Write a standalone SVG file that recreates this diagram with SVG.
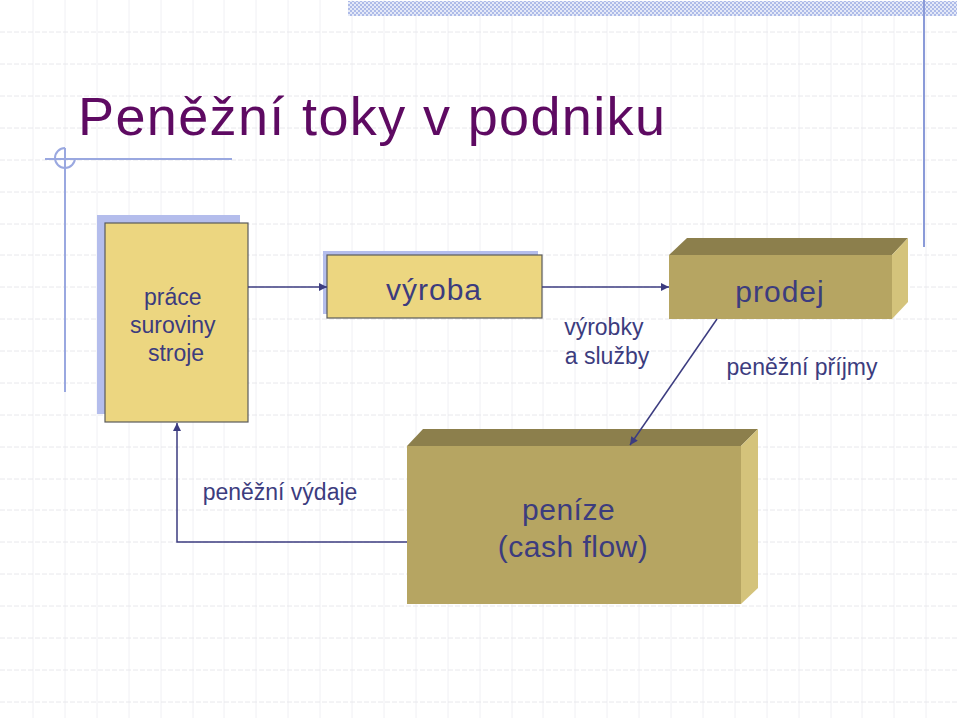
<svg xmlns="http://www.w3.org/2000/svg" width="959" height="718" viewBox="0 0 959 718">
  <defs>
    <style>
      .gv { stroke: #f0f0f4; stroke-width: 1; }
      .gh { stroke: #e8e8ec; stroke-width: 1; stroke-dasharray: 5 2; }
      .deco { stroke: #9aa8e0; stroke-width: 2; fill: none; }
      .box { fill: #ecd680; stroke: #5a5a5a; stroke-width: 1.2; }
      .shadow { fill: #b4bdec; }
      .front { fill: #b6a562; }
      .top { fill: #8c7f4c; }
      .side { fill: #d4c37b; }
      .conn { stroke: #3c3c80; stroke-width: 1.5; fill: none; }
      .lbl { font-family: "Liberation Sans", Arial, sans-serif; fill: #3c3c7e; }
      .title { font-family: "Liberation Sans", Arial, sans-serif; fill: #5e0a62; font-size: 54px; }
    </style>
    <pattern id="checker" width="4" height="4" patternUnits="userSpaceOnUse">
      <rect width="4" height="4" fill="#e4e9f8"/>
      <rect width="2" height="2" fill="#aebbe8"/>
      <rect x="2" y="2" width="2" height="2" fill="#aebbe8"/>
    </pattern>
    <marker id="arrow" viewBox="0 0 10 10" refX="10" refY="5" markerWidth="9" markerHeight="8" markerUnits="userSpaceOnUse" orient="auto">
      <path d="M0,0 L10,5 L0,10 Z" fill="#3c3c80"/>
    </marker>
  </defs>

  <rect width="959" height="718" fill="#ffffff"/>

  <!-- grid -->
  <g id="grid">
    <path class="gv" d="M33,0V718 M65,0V718 M97,0V718 M129,0V718 M161,0V718 M193,0V718 M224,0V718 M256,0V718 M288,0V718 M320,0V718 M352,0V718 M384,0V718 M416,0V718 M448,0V718 M480,0V718 M512,0V718 M543,0V718 M575,0V718 M607,0V718 M639,0V718 M671,0V718 M703,0V718 M735,0V718 M767,0V718 M799,0V718 M831,0V718 M862,0V718 M894,0V718 M926,0V718"/>
    <path class="gh" d="M0,32H959 M0,64H959 M0,96H959 M0,128H959 M0,160H959 M0,192H959 M0,224H959 M0,255H959 M0,287H959 M0,319H959 M0,351H959 M0,383H959 M0,415H959 M0,447H959 M0,479H959 M0,510H959 M0,542H959 M0,574H959 M0,606H959 M0,638H959 M0,670H959 M0,702H959"/>
  </g>

  <!-- decorations -->
  <g id="decoration">
    <rect x="348" y="1" width="609" height="15" fill="url(#checker)"/>
    <line x1="924" y1="0" x2="924" y2="247" stroke="#8a9ad8" stroke-width="2"/>
    <line class="deco" x1="45" y1="159" x2="232" y2="159"/>
    <line class="deco" x1="65" y1="148" x2="65" y2="392"/>
    <path class="deco" d="M65,148 A10,10 0 1,0 75,158" stroke-width="1.5"/>
  </g>

  <text class="title" x="78" y="135" textLength="587" lengthAdjust="spacing">Peněžní toky v podniku</text>

  <!-- nodes -->
  <g id="node-vstupy">
    <rect class="shadow" x="97" y="215" width="143" height="199"/>
    <rect class="box" x="105" y="223" width="143" height="199"/>
    <text class="lbl" font-size="23" text-anchor="middle">
      <tspan x="176" y="305">práce</tspan>
      <tspan x="176" y="333">suroviny</tspan>
      <tspan x="176" y="361">stroje</tspan>
    </text>
  </g>

  <g id="node-vyroba">
    <rect class="shadow" x="323" y="251" width="215" height="63"/>
    <rect class="box" x="327" y="255" width="215" height="63"/>
    <text class="lbl" x="434" y="300" font-size="30" text-anchor="middle" letter-spacing="1">výroba</text>
  </g>

  <g id="node-prodej">
    <polygon class="top" points="669,255 687,238 908,238 892,255"/>
    <polygon class="side" points="892,255 908,238 908,302 892,319"/>
    <rect class="front" x="669" y="255" width="223" height="64"/>
    <text class="lbl" x="780" y="302" font-size="30" text-anchor="middle" letter-spacing="1">prodej</text>
  </g>

  <g id="node-penize">
    <polygon class="top" points="407,446 423,429 758,429 741,446"/>
    <polygon class="side" points="741,446 758,429 758,588 741,604"/>
    <rect class="front" x="407" y="446" width="334" height="158"/>
    <text class="lbl" font-size="30" text-anchor="middle" letter-spacing="0.5">
      <tspan x="573" y="520">peníze</tspan>
      <tspan x="573" y="557">(cash flow)</tspan>
    </text>
  </g>

  <!-- connectors -->
  <g id="connectors">
    <line class="conn" x1="248" y1="287" x2="327" y2="287" marker-end="url(#arrow)"/>
    <line class="conn" x1="542" y1="287" x2="669" y2="287" marker-end="url(#arrow)"/>
    <line class="conn" x1="717" y1="319" x2="630" y2="445" marker-end="url(#arrow)" stroke-width="1.2"/>
    <polyline class="conn" points="407,542 177,542 177,423" marker-end="url(#arrow)"/>
  </g>

  <!-- connector labels -->
  <g id="labels">
    <text class="lbl" font-size="23" text-anchor="middle">
      <tspan x="607" y="335">výrobky</tspan>
      <tspan x="607" y="364">a služby</tspan>
    </text>
    <text class="lbl" x="802" y="375" font-size="23" text-anchor="middle">peněžní příjmy</text>
    <text class="lbl" x="280" y="500" font-size="23" text-anchor="middle">peněžní výdaje</text>
  </g>
</svg>
